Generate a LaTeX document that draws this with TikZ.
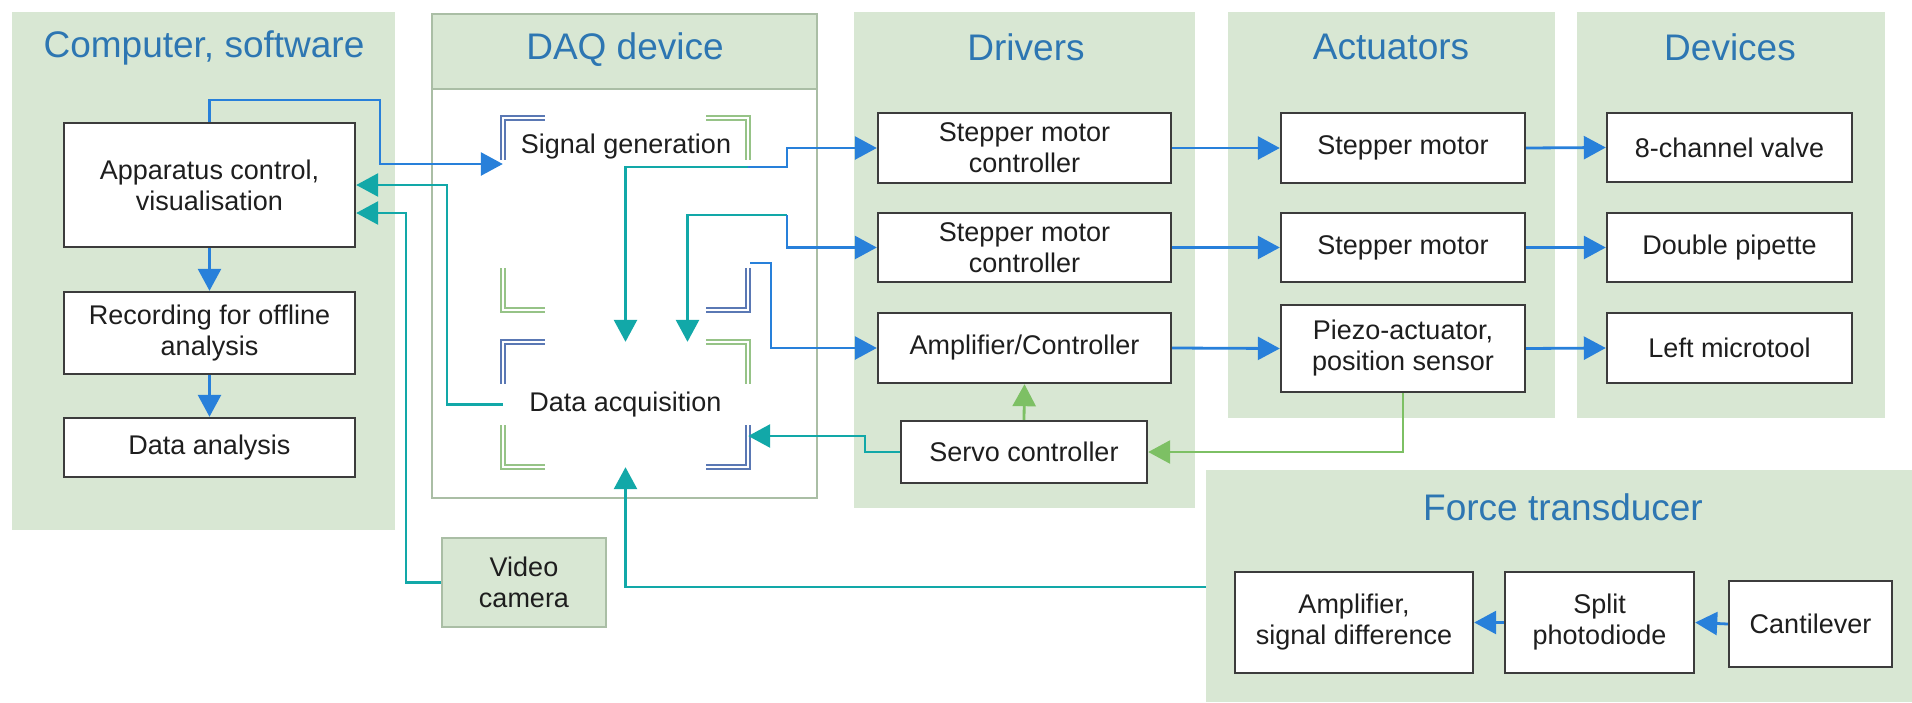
\documentclass[tikz,border=0pt]{standalone}
\usepackage{fontspec}
\setmainfont{Liberation Sans}
\usetikzlibrary{arrows.meta}
\definecolor{panelfill}{RGB}{216,231,211}
\definecolor{titleblue}{RGB}{45,118,178}
\definecolor{arrblue}{RGB}{40,128,218}
\definecolor{arrteal}{RGB}{18,168,168}
\definecolor{arrgreen}{RGB}{125,192,100}
\definecolor{brblue}{RGB}{90,120,180}
\definecolor{brgreen}{RGB}{150,195,135}
\definecolor{boxline}{RGB}{60,60,60}
\definecolor{daqline}{RGB}{170,190,165}
\definecolor{boxtext}{RGB}{30,30,30}
\begin{document}
\begin{tikzpicture}[x=1pt,y=-1pt,
  panel/.style={fill=panelfill},
  ttl/.style={text=titleblue,font=\fontsize{37}{40}\selectfont,inner sep=0pt},
  box/.style={draw=boxline,line width=2.4pt,fill=white,text=boxtext,
    font=\fontsize{27}{31}\selectfont,align=center,inner sep=0pt},
  txt/.style={text=boxtext,font=\fontsize{27}{31}\selectfont,inner sep=0pt},
  frame/.style={inner sep=0pt,draw=none},
  conn/.style={line width=2.8pt,-{Triangle[length=22pt,width=23pt]}},
  bl/.style={conn,draw=arrblue},
  tl/.style={conn,draw=arrteal},
  gr/.style={conn,draw=arrgreen},
  brb/.style={draw=brblue,double=white,double distance=2.5pt,line width=1.8pt},
  brg/.style={draw=brgreen,double=white,double distance=2.5pt,line width=1.8pt}
]
\useasboundingbox (0,0) rectangle (1912,702);
\fill[white] (0,0) rectangle (1912,702);

% panels
\fill[panel] (12,12) rectangle (395,530);
\fill[panel] (854,12) rectangle (1195,508);
\fill[panel] (1228,12) rectangle (1555,418);
\fill[panel] (1577,12) rectangle (1885,418);
\fill[panel] (1206,470) rectangle (1912,702);
\draw[daqline,line width=1.5pt,fill=white] (432,14) rectangle (817,498);
\fill[panelfill] (432,14) rectangle (817,89);
\draw[daqline,line width=1.5pt] (432,89) -- (817,89);
\draw[daqline,line width=1.5pt] (432,14) rectangle (817,498);

% titles
\node[ttl] (tcomp) at (204,48) {Computer, software};
\node[ttl] (tdaq) at (625,50) {DAQ device};
\node[ttl] (tdrv) at (1026,47) {Drivers};
\node[ttl] (tact) at (1391,47) {Actuators};
\node[ttl] (tdev) at (1730,47) {Devices};
\node[ttl] (tfor) at (1563,507) {Force transducer};

% DAQ inner frames
\node[frame,minimum width=245pt,minimum height=192pt] (sgbox) at (625.5,214) {};
\node[frame,minimum width=245pt,minimum height=125pt] (dabox) at (625.5,404.5) {};
\node[txt] (sg) at (626,147) {Signal generation};
\node[txt] (da) at (dabox.center) {Data acquisition};

\foreach \b in {sgbox,dabox}{
  \draw[brb] ([yshift=-42pt]\b.north west) -- (\b.north west) -- ([xshift=42pt]\b.north west);
  \draw[brg] ([xshift=-42pt]\b.north east) -- (\b.north east) -- ([yshift=-42pt]\b.north east);
  \draw[brg] ([yshift=42pt]\b.south west) -- (\b.south west) -- ([xshift=42pt]\b.south west);
  \draw[brb] ([xshift=-42pt]\b.south east) -- (\b.south east) -- ([yshift=42pt]\b.south east);
}

% boxes
\node[box,minimum width=291pt,minimum height=124pt] (app) at (209.5,185) {Apparatus control,\\visualisation};
\node[box,minimum width=291pt,minimum height=82pt] (rec) at (209.5,333) {Recording for offline\\analysis};
\node[box,minimum width=291pt,minimum height=59pt] (ana) at (209.5,447.5) {Data analysis};

\node[box,minimum width=293pt,minimum height=70pt] (smc1) at (1024.5,148) {Stepper motor\\controller};
\node[box,minimum width=293pt,minimum height=69pt] (smc2) at (1024.5,247.5) {Stepper motor\\controller};
\node[box,minimum width=293pt,minimum height=70pt] (ampc) at (1024.5,348) {Amplifier/Controller};
\node[box,minimum width=246pt,minimum height=62pt] (servo) at (1024,452) {Servo controller};

\node[box,minimum width=244pt,minimum height=70pt] (sm1) at (1403,148) {Stepper motor};
\node[box,minimum width=244pt,minimum height=69pt] (sm2) at (1403,247.5) {Stepper motor};
\node[box,minimum width=244pt,minimum height=87pt] (piezo) at (1403,348.5) {Piezo-actuator,\\position sensor};

\node[box,minimum width=245pt,minimum height=69pt] (valve) at (1729.5,147.5) {8-channel valve};
\node[box,minimum width=245pt,minimum height=69pt] (pip) at (1729.5,247.5) {Double pipette};
\node[box,minimum width=245pt,minimum height=70pt] (micro) at (1729.5,348) {Left microtool};

\node[box,minimum width=238pt,minimum height=101pt] (famp) at (1354,622.5) {Amplifier,\\signal difference};
\node[box,minimum width=189pt,minimum height=101pt] (split) at (1599.5,622.5) {Split\\photodiode};
\node[box,minimum width=163pt,minimum height=86pt] (cant) at (1810.5,624) {Cantilever};

\node[box,fill=panelfill,draw=daqline,line width=1.8pt,minimum width=164pt,minimum height=89pt] (video) at (524,582.5) {Video\\camera};

% connectors: computer
\draw[bl] (app.north) -- (app.north |- 0,100) -| (380,164) -- (sgbox.west |- 0,164);
\draw[tl] (dabox.west) -| (447,185) -- (app.east);
\draw[tl] (video.west) -| (406,213) -- (app.east |- 0,213);
\draw[bl] (app.south) -- (rec.north);
\draw[bl] (rec.south) -- (ana.north);

% DAQ <-> drivers
\coordinate (j1) at (748,167);
\coordinate (j2) at (787,215);
\coordinate (j3) at (750,263);
\draw[tl] (j1) -| (dabox.north);
\draw[bl] (j1) -- (787,167) |- (smc1.west);
\draw[tl] (j2) -| ([xshift=62pt]dabox.north);
\draw[bl] (j2) |- (smc2.west);
\draw[bl] (j3) -- (771,263) |- (ampc.west);
\draw[tl] (servo.west) -- (865,452) |- (dabox.east |- 0,436);

% drivers -> actuators -> devices
\draw[bl] (smc1.east) -- (sm1.west);
\draw[bl] (smc2.east) -- (sm2.west);
\draw[bl] (ampc.east) -- (piezo.west);
\draw[bl] (sm1.east) -- (valve.west);
\draw[bl] (sm2.east) -- (pip.west);
\draw[bl] (piezo.east) -- (micro.west);
\draw[gr] (servo.north) -- (ampc.south);
\draw[gr] (piezo.south) |- (servo.east);

% force transducer
\draw[bl] (split.west) -- (famp.east);
\draw[bl] (cant.west) -- (split.east);
\coordinate (fte) at (1206,587);
\draw[tl] (fte) -| (dabox.south);
\end{tikzpicture}
\end{document}
